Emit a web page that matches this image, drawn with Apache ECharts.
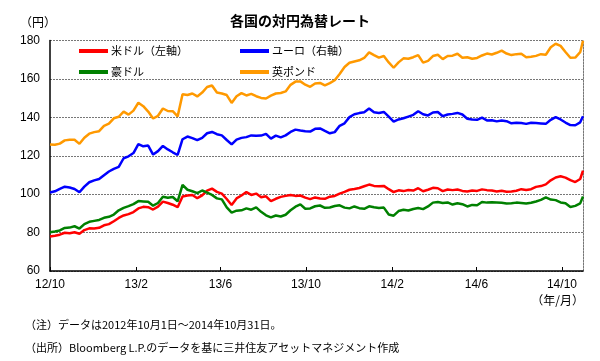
<!DOCTYPE html>
<html><head><meta charset="utf-8">
<script src="https://cdn.jsdelivr.net/npm/echarts@6/dist/echarts.min.js"></script>
<style>html,body{margin:0;padding:0;background:#fff}#c{width:600px;height:361px}</style>
</head><body><div id="c"></div>
<script>
const seriesNames = ['米ドル（左軸）', 'ユーロ（右軸）', '豪ドル', '英ポンド'];
// weekly observations from 2012-10-01 (Mondays), last value = 2014-10-31
const usd = [78.0,78.4,78.9,79.9,79.7,80.2,79.4,81.3,82.2,82.1,
  82.5,83.8,84.4,85.9,87.6,88.9,89.6,90.7,92.6,93.4,
  93.2,92.0,93.5,96.1,95.4,94.5,93.2,98.8,99.3,99.6,
  97.9,99.4,101.8,102.9,101.2,100.3,97.5,94.4,97.8,99.3,
  101.1,99.6,100.3,98.4,98.9,96.4,97.6,98.6,99.1,99.6,
  99.1,99.3,98.2,97.4,98.3,97.7,97.6,98.7,99.1,100.3,
  101.2,102.3,102.7,103.2,104.1,105.0,104.3,104.1,104.3,102.6,
  101.1,102.0,101.6,102.2,101.9,103.1,101.5,102.3,103.3,103.1,
  101.6,102.4,102.1,102.4,101.7,101.4,101.9,101.7,102.5,102.1,
  101.9,101.4,101.8,101.3,101.4,101.8,102.6,102.2,102.6,103.8,
  104.2,105.1,107.2,108.7,109.3,108.6,107.3,106.3,107.9,112.3];
const eur = [100.9,101.5,102.8,103.9,103.5,102.7,101.0,103.9,106.2,107.2,
  107.9,109.9,111.8,113.2,114.2,118.7,119.7,121.4,126.1,124.9,
  125.3,120.6,122.4,125.1,123.3,121.8,120.4,128.6,130.0,129.2,
  128.1,129.3,131.7,132.4,131.2,130.6,128.2,125.9,128.4,129.3,
  129.7,130.6,130.4,130.5,131.4,128.9,130.5,129.6,130.6,132.4,
  133.6,133.1,132.7,132.6,134.0,134.2,132.9,131.7,132.3,135.6,
  136.9,140.1,141.6,142.2,142.6,144.6,142.6,142.3,142.8,140.4,
  137.8,138.9,139.5,140.4,141.3,143.2,141.6,141.0,142.5,142.8,
  140.6,141.5,141.8,142.3,141.5,139.3,138.9,138.7,139.8,138.4,
  138.5,137.9,138.3,138.0,136.9,137.2,137.0,136.6,137.2,137.0,
  136.8,136.6,138.7,140.1,138.9,137.3,136.0,135.9,137.4,140.6];
const aud = [80.2,80.6,81.1,82.4,82.6,83.3,82.1,84.4,85.6,86.1,
  86.6,87.7,88.2,89.4,91.6,92.9,93.8,94.8,96.4,96.2,
  96.0,94.0,95.4,98.7,98.1,98.5,96.3,104.8,102.3,101.5,
  100.5,101.9,100.8,99.6,97.8,97.3,93.1,90.4,91.4,91.6,
  92.6,91.9,93.1,90.8,89.0,87.9,88.9,88.4,89.3,91.6,
  93.5,94.7,92.4,92.6,93.7,94.1,92.9,93.1,93.8,94.2,
  93.0,92.6,93.6,92.7,92.4,93.7,93.2,92.8,93.0,89.4,
  88.8,91.2,91.9,91.5,92.3,92.8,92.2,93.6,95.6,95.9,
  95.4,95.7,94.6,95.3,94.8,93.6,94.4,94.2,95.9,95.6,
  95.8,95.7,95.5,95.2,95.3,95.6,95.4,95.1,95.5,96.2,
  97.0,98.3,97.2,96.9,95.7,95.3,93.3,93.9,95.2,98.8];
const gbp = [125.9,125.7,126.3,128.0,128.3,128.3,126.2,129.4,131.5,132.3,
  132.8,135.6,136.7,139.5,140.3,143.0,141.4,143.5,147.6,145.8,
  143.0,139.4,140.8,144.6,143.3,143.2,140.5,152.0,151.6,152.4,
  150.9,152.9,155.8,156.6,152.9,152.4,151.6,147.5,151.0,152.6,
  151.4,152.2,151.0,150.1,149.8,151.3,152.4,152.7,153.5,156.9,
  158.6,158.7,157.0,155.9,157.6,157.9,156.6,157.8,159.3,162.6,
  166.2,168.4,169.1,169.7,170.9,173.8,172.4,171.1,171.9,168.6,
  165.8,168.6,170.7,170.5,171.3,172.4,168.5,169.4,171.9,172.6,
  170.3,171.9,172.1,173.1,171.0,171.3,170.5,170.9,172.2,173.2,
  172.7,173.6,174.7,173.2,172.4,172.9,173.1,171.3,171.5,172.0,
  172.9,172.6,176.5,178.3,177.2,174.0,171.0,171.1,173.9,179.9];
const tickDates = ['2012-10-01','2013-02-01','2013-06-01','2013-10-01','2014-02-01','2014-06-01','2014-10-01'];
const tickLabels = ['12/10','13/2','13/6','13/10','14/2','14/6','14/10'];
const startDate = '2012-10-01', endDate = '2014-10-31';

function dayOf(s){const p=s.split('-');const q=startDate.split('-');
  return Math.round((Date.UTC(+p[0],p[1]-1,+p[2])-Date.UTC(+q[0],q[1]-1,+q[2]))/86400000);}
const xDays = [];
for (let i = 0; i < usd.length - 1; i++) xDays.push(7 * i);
xDays.push(dayOf(endDate));
const tickDays = tickDates.map(dayOf);
const pair = arr => arr.map((v, i) => [xDays[i], v]);

const colors = ['#FF0000', '#0000FF', '#008000', '#FF9900'];
const allData = [usd, eur, aud, gbp];
const jp = '"Noto Sans CJK JP", sans-serif';
const num = '"Liberation Sans", Arial, sans-serif';

const legendText = {fontFamily: jp, fontSize: 11, color: '#000', lineHeight: 14, padding: [0,0,0,-2]};
const chart = echarts.init(document.getElementById('c'), null, {renderer: 'canvas'});
chart.setOption({
  animation: false,
  backgroundColor: '#fff',
  grid: {left: 50, right: 17, top: 40.5, bottom: 90, containLabel: false},
  title: {text: '各国の対円為替レート', left: 'center', top: 9,
    textStyle: {fontFamily: jp, fontSize: 14, fontWeight: 'bold', color: '#000'}},
  legend: [
    {orient: 'vertical', left: 74, top: 39, icon: 'rect', itemWidth: 29, itemHeight: 4, itemGap: 7,
      data: [seriesNames[0], seriesNames[2]], textStyle: legendText},
    {orient: 'vertical', left: 235, top: 39, icon: 'rect', itemWidth: 29, itemHeight: 4, itemGap: 7,
      data: [seriesNames[1], seriesNames[3]], textStyle: legendText}
  ],
  xAxis: {
    type: 'value', min: 0, max: dayOf(endDate),
    axisLine: {show: true, lineStyle: {color: '#000', width: 1.5}},
    axisTick: {show: true, inside: true, length: 4, customValues: tickDays, lineStyle: {color: '#000'}},
    axisLabel: {customValues: tickDays, margin: 8, fontFamily: num, fontSize: 12, color: '#000',
      formatter: v => tickLabels[tickDays.indexOf(Math.round(v))] || ''},
    splitLine: {show: false}
  },
  yAxis: [
    {type: 'value', min: 60, max: 180, interval: 20,
      axisLine: {show: true, lineStyle: {color: '#000', width: 1.5}},
      axisTick: {show: false},
      axisLabel: {margin: 10, fontFamily: num, fontSize: 12, color: '#000'},
      splitLine: {show: true, lineStyle: {color: '#777', type: [2, 1], width: 1}}},
    {type: 'value', min: 60, max: 180, interval: 20, position: 'right',
      axisLine: {show: true, lineStyle: {color: '#777', type: [2, 1], width: 1}},
      axisTick: {show: false}, axisLabel: {show: false}, splitLine: {show: false}}
  ],
  series: allData.map((d, k) => ({
    name: seriesNames[k], type: 'line', data: pair(d), yAxisIndex: 0,
    showSymbol: false, symbol: 'none', smooth: false,
    lineStyle: {color: colors[k], width: 2.5}, itemStyle: {color: colors[k]}
  })),
  graphic: [
    {type: 'text', left: 20, top: 16, style: {text: '（円）', font: '12px ' + jp, fill: '#000'}},
    {type: 'text', right: 16, top: 294, style: {text: '（年/月）', font: '12px ' + jp, fill: '#000'}},
    {type: 'text', left: 25, top: 319, style: {text: '（注）データは2012年10月1日～2014年10月31日。', font: '11px ' + jp, fill: '#000'}},
    {type: 'text', left: 25, top: 342, style: {text: '（出所）Bloomberg L.P.のデータを基に三井住友アセットマネジメント作成', font: '11px ' + jp, fill: '#000'}}
  ]
});
</script></body></html>
